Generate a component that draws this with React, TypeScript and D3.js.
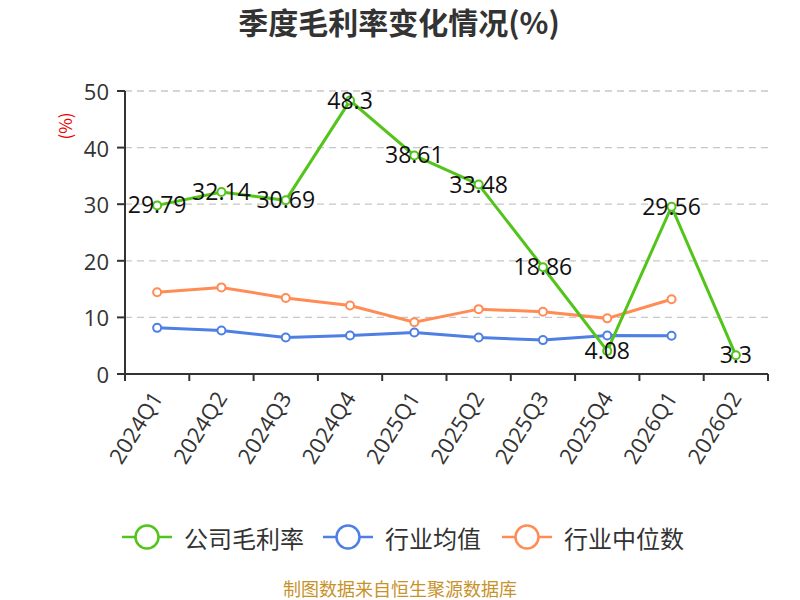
import React from 'react';
import * as d3 from 'd3';

const quarters = ['2024Q1', '2024Q2', '2024Q3', '2024Q4', '2025Q1', '2025Q2', '2025Q3', '2025Q4', '2026Q1', '2026Q2'];
const companyMargin = [29.79, 32.14, 30.69, 48.3, 38.61, 33.48, 18.86, 4.08, 29.56, 3.3];
const industryAvg = [8.15, 7.68, 6.46, 6.8, 7.33, 6.46, 5.99, 6.8, 6.75];
const industryMedian = [14.43, 15.3, 13.44, 12.1, 9.13, 11.46, 11.0, 9.83, 13.2];
const yTicks = [0, 10, 20, 30, 40, 50];

const series = [
  { name: '公司毛利率', values: companyMargin, color: '#52c41a', labels: true },
  { name: '行业均值', values: industryAvg, color: '#4e7fe5', labels: false },
  { name: '行业中位数', values: industryMedian, color: '#ff8c55', labels: false },
];

const cjk = '"Noto Sans CJK SC", "Noto Sans", sans-serif';
const latin = '"Open Sans", "Noto Sans", sans-serif';

const App: React.FC = () => {
  const width = 800;
  const height = 600;
  const margin = { top: 91, right: 32, bottom: 226, left: 125 };

  const x = d3.scaleBand<string>().domain(quarters).range([margin.left, width - margin.right]);
  const y = d3.scaleLinear().domain([0, 50]).range([height - margin.bottom, margin.top]);
  const cx = (i: number) => (x(quarters[i]) ?? 0) + x.bandwidth() / 2;

  const line = d3.line<number>().x((_, i) => cx(i)).y(d => y(d));

  // legend item left edges
  const legendX = [122, 323, 502];

  return (
    <svg width={width} height={height} style={{ display: 'block', position: 'absolute', left: 0, top: 0, fontFamily: cjk }}>
      <rect width={width} height={height} fill="#fff" />
      <text x={399} y={34} textAnchor="middle" fontSize={30} fontWeight="bold" fill="#333">季度毛利率变化情况(%)</text>

      <text transform={`translate(64,126) rotate(-90)`} textAnchor="middle" dominantBaseline="central" fontSize={17} fill="#e00">(%)</text>

      {yTicks.filter(t => t > 0).map(t => (
        <line key={t} x1={margin.left} x2={width - margin.right} y1={y(t)} y2={y(t)} stroke="#c8c8c8" strokeDasharray="7,5" strokeWidth={1.3} />
      ))}

      <line x1={margin.left} x2={margin.left} y1={margin.top} y2={y(0) + 7} stroke="#333" strokeWidth={2} />
      {yTicks.map(t => (
        <g key={t}>
          <line x1={margin.left - 8} x2={margin.left} y1={y(t)} y2={y(t)} stroke="#333" strokeWidth={2} />
          <text x={margin.left - 16} y={y(t)} textAnchor="end" dominantBaseline="central" fontSize={22} fill="#333" fontFamily={latin}>{t}</text>
        </g>
      ))}

      <line x1={margin.left} x2={width - margin.right} y1={y(0)} y2={y(0)} stroke="#333" strokeWidth={2} />
      {quarters.map(q => (
        <line key={q} x1={x(q)} x2={x(q)} y1={y(0)} y2={y(0) + 7} stroke="#333" strokeWidth={2} />
      ))}
      <line x1={width - margin.right} x2={width - margin.right} y1={y(0)} y2={y(0) + 7} stroke="#333" strokeWidth={2} />
      {quarters.map((q, i) => (
        <text key={q} transform={`translate(${cx(i) - 1},${y(0) + 19}) rotate(-58)`} textAnchor="end" dominantBaseline="central" fontSize={22} fill="#333" fontFamily={latin}>{q}</text>
      ))}

      {series.slice().reverse().map(s => (
        <g key={s.name}>
          <path d={line(s.values) ?? ''} fill="none" stroke={s.color} strokeWidth={3} />
          {s.values.map((v, i) => (
            <circle key={i} cx={cx(i)} cy={y(v)} r={4} fill="#fff" stroke={s.color} strokeWidth={2} />
          ))}
        </g>
      ))}

      {series.filter(s => s.labels).map(s => s.values.map((v, i) => (
        <text key={i} x={cx(i)} y={y(v) - 1} textAnchor="middle" dominantBaseline="central" fontSize={23} fill="#111" fontFamily={latin}>{v}</text>
      )))}

      {series.map((s, k) => (
        <g key={s.name} transform={`translate(${legendX[k]},537)`}>
          <line x1={0} x2={50} y1={0} y2={0} stroke={s.color} strokeWidth={2.5} />
          <circle cx={25} cy={0} r={11.5} fill="#fff" stroke={s.color} strokeWidth={2.5} />
          <text x={62} y={0} dominantBaseline="central" fontSize={24} fill="#333">{s.name}</text>
        </g>
      ))}

      <text x={400} y={588} textAnchor="middle" dominantBaseline="central" fontSize={18} fill="#c8922a">制图数据来自恒生聚源数据库</text>
    </svg>
  );
};

export default App;
